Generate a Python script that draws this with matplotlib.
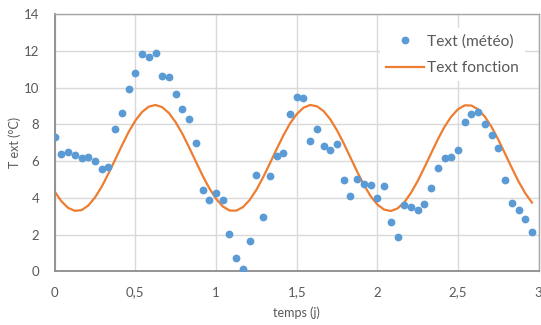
import matplotlib
matplotlib.use("Agg")
import matplotlib.pyplot as plt
from matplotlib.ticker import FuncFormatter

# hourly time steps (days)
hours = list(range(72))

text_meteo = [7.31, 6.40, 6.47, 6.31, 6.18, 6.20, 5.98, 5.57, 5.66, 7.74,
              8.59, 9.94, 10.81, 11.82, 11.64, 11.89, 10.61, 10.55, 9.65, 8.85,
              8.30, 6.98, 4.42, 3.90, 4.28, 3.86, 2.03, 0.74, 0.13, 1.65,
              5.24, 2.97, 5.20, 6.29, 6.44, 8.58, 9.48, 9.45, 7.11, 7.74,
              6.82, 6.62, 6.91, 4.99, 4.08, 5.02, 4.73, 4.70, 3.97, 4.66,
              2.68, 1.85, 3.61, 3.48, 3.34, 3.64, 4.51, 5.60, 6.17, 6.24,
              6.60, 8.11, 8.56, 8.67, 8.03, 7.43, 6.69, 4.99, 3.70, 3.32,
              2.86, 2.12]

text_fonction = [4.34, 3.81, 3.45, 3.29, 3.33, 3.58, 4.02, 4.61, 5.32, 6.08,
                 6.85, 7.58, 8.20, 8.67, 8.96, 9.05, 8.93, 8.61, 8.11, 7.48,
                 6.74, 5.97, 5.21, 4.52, 3.95, 3.53, 3.31, 3.30, 3.49, 3.88,
                 4.43, 5.11, 5.86, 6.64, 7.38, 8.04, 8.55, 8.90, 9.05, 8.98,
                 8.72, 8.27, 7.67, 6.96, 6.19, 5.42, 4.70, 4.09, 3.63, 3.36,
                 3.28, 3.42, 3.75, 4.27, 4.91, 5.65, 6.42, 7.18, 7.87, 8.42,
                 8.82, 9.03, 9.02, 8.81, 8.41, 7.85, 7.16, 6.40, 5.63, 4.89,
                 4.25, 3.74]

x_ticks = [0, 0.5, 1, 1.5, 2, 2.5, 3]
y_ticks = [0, 2, 4, 6, 8, 10, 12, 14]

t = [h / 24 for h in hours]

plt.rcParams['font.family'] = ['Lato', 'DejaVu Sans']

fig = plt.figure(figsize=(5.41, 3.25), dpi=100)
ax = fig.add_axes([0.1011, 0.1652, 0.8946, 0.7917])

grid_c = '#D9D9D9'
ax.set_xlim(0, 3)
ax.set_ylim(0, 14)
ax.set_xticks(x_ticks)
ax.set_yticks(y_ticks)
ax.xaxis.set_major_formatter(FuncFormatter(lambda v, p: ('%g' % v).replace('.', ',')))
ax.grid(True, color=grid_c, linewidth=1.0)
ax.set_axisbelow(True)
for side in ('left', 'bottom'):
    ax.spines[side].set_color('#8C8C8C')
    ax.spines[side].set_linewidth(1.3)
for side in ('top', 'right'):
    ax.spines[side].set_color('#A6A6A6')
    ax.spines[side].set_linewidth(1.0)
ax.tick_params(length=0, colors='#595959', labelsize=9.5)
ax.tick_params(axis='x', pad=11)
ax.tick_params(axis='y', pad=11)

ax.plot(t, text_meteo, linestyle='none', marker='o', markersize=4.6,
        color='#5B9BD5', label='Text (météo)', zorder=3)
ax.plot(t, text_fonction, color='#ED7D31', linewidth=1.6,
        label='Text fonction', zorder=2)

leg = ax.legend(loc='upper right', bbox_to_anchor=(0.988, 0.975), frameon=True,
                fontsize=11.2, handlelength=2.45, handletextpad=0.2,
                labelspacing=0.8, borderpad=0.4, framealpha=1.0)
leg.get_frame().set_edgecolor('white')
leg.get_frame().set_linewidth(0)
for txt in leg.get_texts():
    txt.set_color('#595959')

ax.set_xlabel('temps (j)', color='#595959', fontsize=9)
ax.set_ylabel('T ext (°C)', color='#595959', fontsize=9)
ax.xaxis.set_label_coords(0.5, -0.162)
ax.xaxis.label.set_va('center')
ax.yaxis.set_label_coords(-0.082, 0.5)
ax.yaxis.label.set_va('center')

fig.savefig('out.png', dpi=100)
